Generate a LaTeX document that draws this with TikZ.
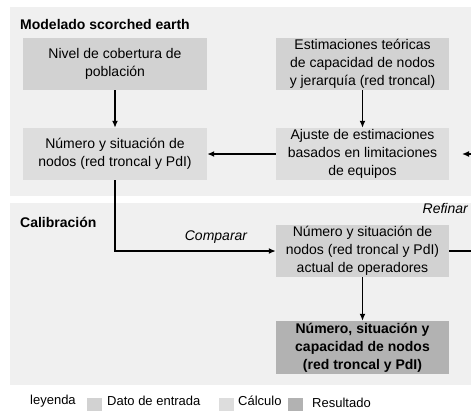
\documentclass[tikz,border=0pt]{standalone}
\usepackage{fontspec}
\setmainfont{Liberation Sans}
\usepackage{tikz}
\usetikzlibrary{positioning, arrows.meta}
\definecolor{panelgray}{HTML}{F0F0F0}
\definecolor{inputgray}{HTML}{D2D2D2}
\definecolor{calcgray}{HTML}{DDDDDD}
\definecolor{resultgray}{HTML}{B2B2B2}
\newcommand{\boxfont}{\fontsize{14}{18}\selectfont}
\newcommand{\legfont}{\fontsize{13}{15}\selectfont}

\begin{document}
\begin{tikzpicture}[x=1pt, y=-1pt, >={Latex[length=7pt, width=6pt]},
    databox/.style={fill=inputgray, align=center, inner sep=0pt, font=\boxfont},
    calcbox/.style={fill=calcgray, align=center, inner sep=0pt, font=\boxfont},
    resbox/.style={fill=resultgray, align=center, inner sep=0pt, font=\boxfont\bfseries},
    wide/.style={minimum width=184pt, minimum height=52pt},
    narrow/.style={minimum width=173pt, minimum height=52pt},
    flow/.style={line width=1.4pt, draw=black},
    label/.style={inner sep=0pt, font=\boxfont},
    legtext/.style={inner sep=0pt, anchor=west, font=\legfont},
    legsq/.style={minimum size=15pt, inner sep=0pt}
  ]
  \useasboundingbox (0,0) rectangle (471,410);
  % panels
  \fill[panelgray] (10,7) rectangle (471,196);
  \fill[panelgray] (10,203) rectangle (471,385);
  \node[label, anchor=west, font=\boxfont\bfseries] (title1) at (20,24) {Modelado scorched earth};
  \node[label, anchor=west, font=\boxfont\bfseries] (title2) at (20,222) {Calibración};

  % scorched earth
  \node[databox, wide] (cobertura) at (115,64) {Nivel de cobertura de\\población};
  \node[databox, narrow] (teoricas) at (362.5,64) {Estimaciones teóricas\\de capacidad de nodos\\y jerarquía (red troncal)};
  \node[calcbox, wide] (nodos) at (115,154) {Número y situación de\\nodos (red troncal y PdI)};
  \node[calcbox, narrow] (ajuste) at (362.5,154) {Ajuste de estimaciones\\basados en limitaciones\\de equipos};

  % calibration
  \node[databox, narrow] (actual) at (362.5,251) {Número y situación de\\nodos (red troncal y PdI)\\actual de operadores};
  \node[resbox, narrow, minimum height=53pt] (resultado) at (362.5,347.5) {Número, situación y\\capacidad de nodos\\(red troncal y PdI)};

  \coordinate (codo) at (115,251);
  \coordinate (refout) at (471,251);
  \coordinate (refin) at (471,154);
  \coordinate (reftip) at (462,154);

  \draw[flow, ->] (cobertura) -- (nodos);
  \draw[flow, ->] (teoricas) -- (ajuste);
  \draw[flow, ->] (ajuste) -- (nodos);
  \draw[flow, ->] (nodos) -- (codo) -- (actual);
  \draw[flow, ->] (actual) -- (resultado);
  \draw[flow] (actual) -- (refout);
  \draw[flow, ->] (refin) -- (reftip);
  \node[label, font=\boxfont\itshape] (comparar) at (216,237) {Comparar};
  \node[label, anchor=east, font=\boxfont\itshape] (refinar) at (468,208) {Refinar};

  % legend
  \node[legtext] (leyenda) at (30,401) {leyenda};
  \node[legsq, fill=inputgray] (legdato) at (94.5,405) {};
  \node[legtext] (txtdato) at (107,401) {Dato de entrada};
  \node[legsq, fill=calcgray] (legcalc) at (226,405) {};
  \node[legtext] (txtcalc) at (238,401) {Cálculo};
  \node[legsq, fill=resultgray] (legres) at (295,405) {};
  \node[legtext] (txtres) at (312,403) {Resultado};
\end{tikzpicture}
\end{document}
